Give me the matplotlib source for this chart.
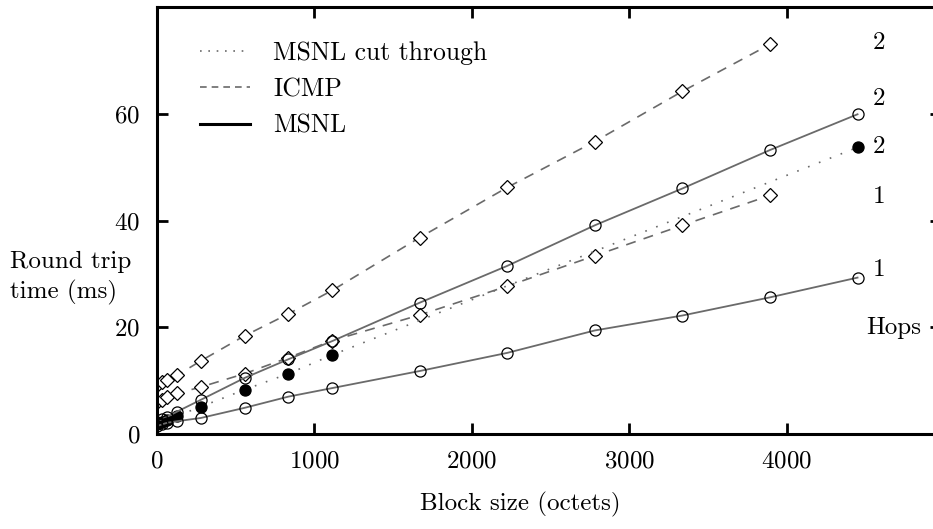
import matplotlib
matplotlib.use("Agg")
import matplotlib.pyplot as plt
from matplotlib.lines import Line2D

plt.rcParams['font.family'] = ['cmr10', 'DejaVu Serif']
plt.rcParams['axes.formatter.use_mathtext'] = True

# ---- data ----
x_full = [1, 32, 64, 128, 278, 556, 834, 1112, 1668, 2224, 2780, 3336, 3892, 4448]
x_icmp = [1, 32, 64, 128, 278, 556, 834, 1112, 1668, 2224, 2780, 3336, 3892]
x_cut = [1, 32, 64, 128, 278, 556, 834, 1112, 4448]

icmp_2hops = [9.2, 9.7, 10.2, 11.0, 13.7, 18.4, 22.5, 26.9, 36.8, 46.2, 54.8, 64.2, 73.0]
icmp_1hop = [6.0, 6.4, 6.9, 7.6, 8.8, 11.3, 14.3, 17.5, 22.3, 27.7, 33.4, 39.1, 44.7]
msnl_2hops = [2.3, 2.8, 3.2, 4.2, 6.4, 10.5, 14.0, 17.4, 24.6, 31.5, 39.1, 46.0, 53.2, 59.9]
msnl_1hop = [1.5, 1.8, 2.1, 2.4, 3.0, 4.9, 7.0, 8.6, 11.8, 15.2, 19.4, 22.2, 25.6, 29.3]
cut_2hops = [1.8, 2.2, 2.6, 3.4, 5.1, 8.3, 11.3, 14.8, 53.7]

hop_labels = ["2", "2", "2", "1", "1", "Hops"]
hop_label_y = [73.2, 62.7, 53.7, 44.5, 30.8, 19.9]

x_ticks = [0, 1000, 2000, 3000, 4000]
y_ticks = [0, 20, 40, 60]

gray = "#6a6a6a"
fs = 18
lfs = 18.5

fig = plt.figure(figsize=(9.33, 5.29), dpi=100)
ax = fig.add_axes([157/933, 1-434/529, 1.003-157/933, (434-7)/529])

ax.plot(x_icmp, icmp_2hops, color=gray, ls=(0, (6, 5)), lw=1.2,
        marker='D', ms=7.5, mfc='white', mec='black', mew=0.9)
ax.plot(x_icmp, icmp_1hop, color=gray, ls=(0, (6, 5)), lw=1.2,
        marker='D', ms=7.5, mfc='white', mec='black', mew=0.9)
ax.plot(x_cut, cut_2hops, color=gray, ls=(0, (1, 6)), lw=1.2,
        marker='o', ms=8, mfc='black', mec='black', mew=0.9)
ax.plot(x_full, msnl_2hops, color=gray, ls='-', lw=1.3,
        marker='o', ms=8, mfc='none', mec='black', mew=0.9)
ax.plot(x_full, msnl_1hop, color=gray, ls='-', lw=1.3,
        marker='o', ms=8, mfc='none', mec='black', mew=0.9)

for lab, yv in zip(hop_labels, hop_label_y):
    if lab == "Hops":
        ax.text(4850, yv, lab, fontsize=fs, ha='right', va='center')
    else:
        ax.text(4582, yv, lab, fontsize=fs, ha='center', va='center')

ax.set_xlim(0, 4945)
ax.set_ylim(0, 80)
ax.set_xticks(x_ticks)
ax.set_yticks(y_ticks)
ax.tick_params(direction='in', length=8, width=2, labelsize=fs,
               top=True, right=True, pad=12)
ax.tick_params(axis='y', which='major', right=True)
for t in ax.yaxis.get_major_ticks():
    t.tick2line.set_markersize(4)
for s in ax.spines.values():
    s.set_linewidth(2.2)

handles = [
    Line2D([], [], color=gray, ls=(0, (1, 4)), lw=1.2),
    Line2D([], [], color=gray, ls=(0, (4, 3)), lw=1.2),
    Line2D([], [], color='black', ls='-', lw=2.2),
]
ax.legend(handles, ["MSNL cut through", "ICMP", "MSNL"], loc='upper left',
          bbox_to_anchor=(43/776, (434-41)/427), frameon=False, fontsize=lfs,
          borderpad=0, borderaxespad=0,
          handlelength=1.95, handletextpad=0.9, labelspacing=0.5)

fig.text(10/933, 1-278/529, "Round trip\ntime (ms)", fontsize=fs,
         ha='left', va='center', linespacing=1.35)
fig.text(520/933, 1-504/529, "Block size (octets)", fontsize=fs,
         ha='center', va='center')

fig.savefig("out.png", dpi=100)
